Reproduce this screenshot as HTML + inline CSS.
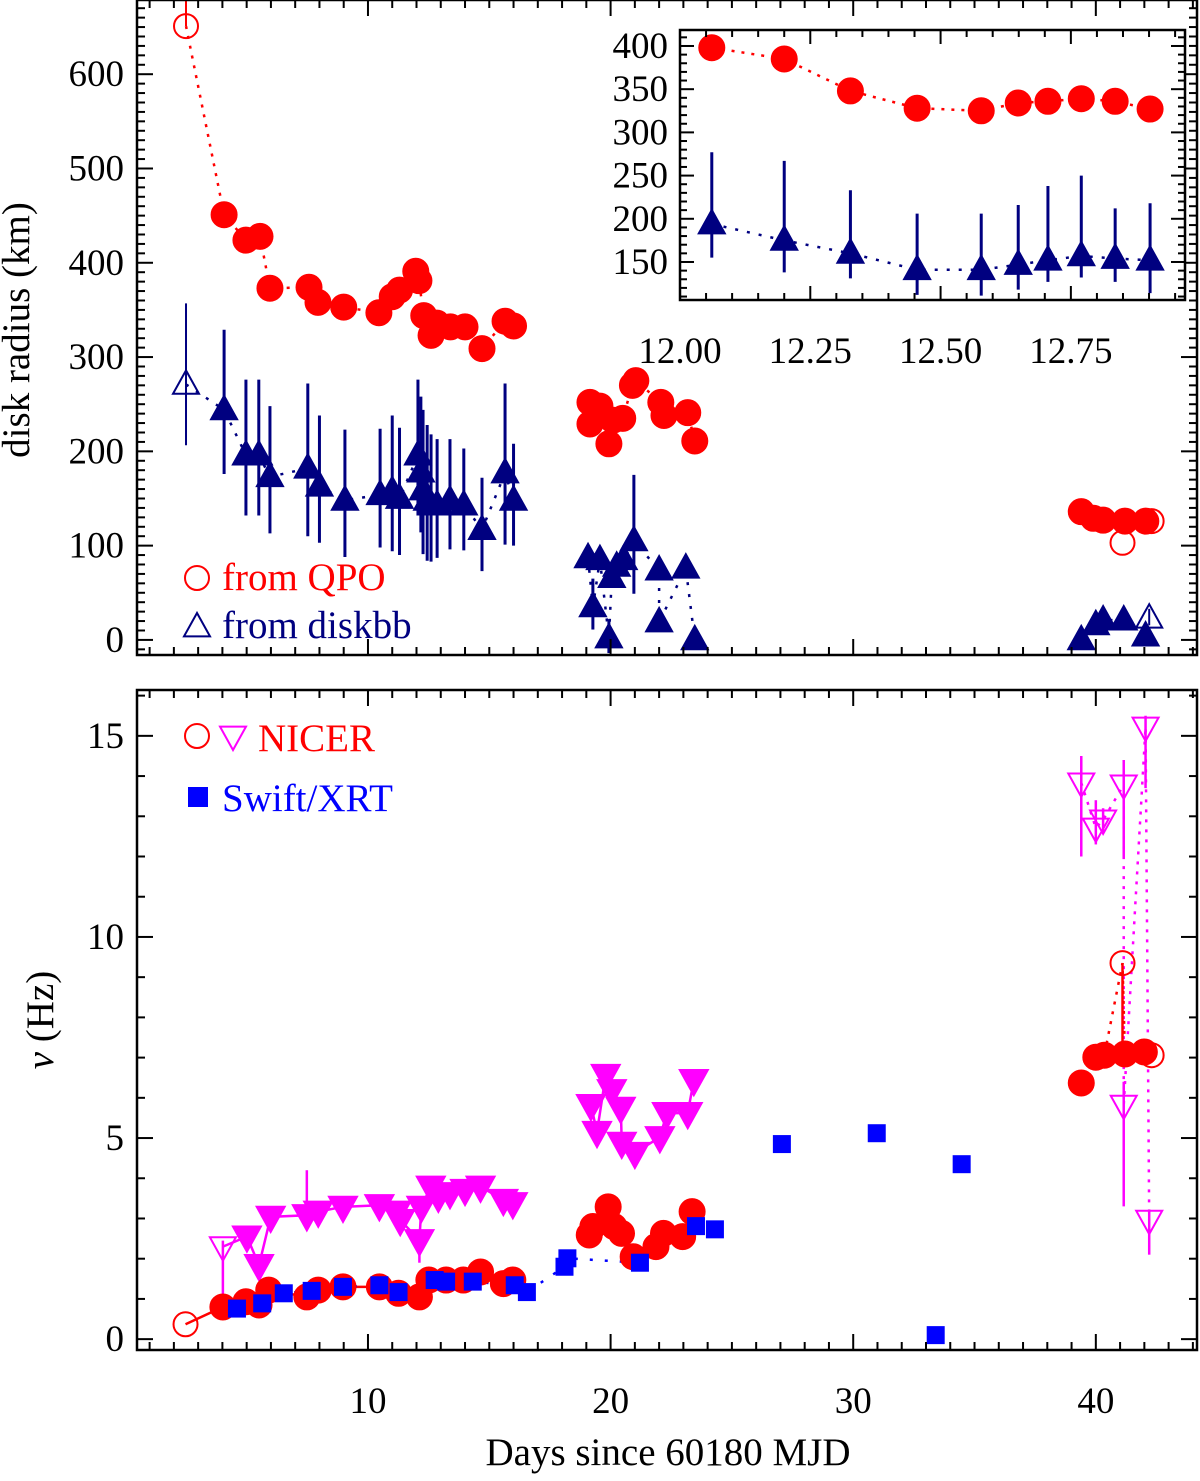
<!DOCTYPE html>
<html><head><meta charset="utf-8"><style>
body{margin:0;background:#fff}
svg text{font-family:"Liberation Serif",serif}
</style></head><body>
<svg id="c" width="1200" height="1476" xmlns="http://www.w3.org/2000/svg"></svg>
<script>
// ---- data: top panel ----
const qpoDays=[4.07,4.97,5.55,5.96,7.57,7.94,9.0,10.45,11.0,11.3,11.97,12.1,12.3,12.6,12.84,13.4,14.0,14.7,15.65,16.0,19.15,19.56,19.15,20.1,19.93,20.5,20.9,21.04,22.07,22.2,23.18,23.47,39.4,39.9,40.3,41.2,42.06];
const qpoRadius=[451,424,428,373,374,358,353,347,364,371,391,381,344,323,336,332,332,309,338,333,252,248,229,233,208,235,270,275,252,238,241,211,136,129,127,126,126];
const qpoOpenDays=[2.5,41.1,42.3];
const qpoOpenRadius=[651,103,126];
const dbbDays=[4.07,4.97,5.5,5.96,7.52,8.0,9.05,10.5,11.0,11.3,12.06,12.18,12.27,12.44,12.6,12.85,13.38,13.95,14.7,15.65,16.0,19.07,19.27,19.56,19.93,20.05,20.25,20.54,20.96,22.0,22.0,23.1,23.47,39.4,40.0,40.3,41.15,42.05];
const dbbRadius=[244,196,196,173,182,163,148,154,158,150,196,178,159,148,143,143,148,143,117,177,148,87,35,85,2,66,78,85,105,74,19,76,0,0,16,21,21,4];
const dbbErr=[85,80,80,75,90,75,75,70,80,75,80,80,85,80,75,70,65,60,55,95,60,10,30,10,20,10,10,15,70,10,10,10,0,0,0,0,0,0];
const dbbOpenDays=[2.5,42.2];
const dbbOpenRadius=[271,23];
const dbbOpenErr=[86,10];
// ---- inset ----
const insDays=[12.061,12.20,12.327,12.455,12.578,12.649,12.706,12.770,12.835,12.902];
const insQpo=[398,385,348,328,325,334,336,339,336,327];
const insDbb=[194,175,160,141,141,147,152,157,154,152];
const insDbbHi=[277,267,233,206,206,216,238,250,212,218];
const insDbbLo=[155,138,131,112,111,118,127,132,127,114];
// ---- bottom panel ----
const nicerDays=[4.02,4.97,5.51,5.91,7.48,7.95,8.97,10.47,11.26,12.12,12.51,13.22,13.93,14.64,15.58,15.97,19.12,19.27,19.9,20.14,20.45,20.93,21.87,22.18,22.97,23.36,39.4,40.0,40.35,41.2,42.0];
const nicerFreq=[0.80,0.93,0.85,1.22,1.05,1.22,1.30,1.30,1.14,1.05,1.47,1.47,1.47,1.67,1.38,1.47,2.59,2.80,3.29,2.80,2.63,2.05,2.30,2.63,2.55,3.17,6.37,7.01,7.06,7.09,7.14];
const nicerOpenDays=[2.48,41.1,42.3];
const nicerOpenFreq=[0.37,9.35,7.06];
const swiftDays=[4.6,5.64,6.53,7.68,8.97,10.47,11.26,12.75,13.22,14.32,16.05,16.55,18.1,18.22,21.21,23.52,24.3,27.06,30.97,34.47,33.4];
const swiftFreq=[0.76,0.89,1.14,1.20,1.30,1.34,1.17,1.47,1.43,1.43,1.34,1.17,1.80,2.01,1.90,2.81,2.73,4.85,5.12,4.35,0.10];
const ulDays=[5.01,5.51,5.99,7.48,7.95,8.97,10.47,11.17,11.33,12.12,12.2,12.59,12.9,13.38,14.0,14.64,15.58,15.97,19.19,19.44,19.8,20.05,20.42,20.46,21.0,22.03,22.32,23.18,23.43];
const ulFreq=[2.55,1.84,3.04,3.08,3.17,3.29,3.33,3.17,2.96,2.46,3.29,3.79,3.54,3.63,3.71,3.79,3.46,3.38,5.82,5.15,6.57,6.19,5.75,4.88,4.63,5.02,5.62,5.62,6.44];
const ulOpenDays=[4.02,39.4,40.0,40.3,41.15,41.15,42.05,42.2];
const ulOpenFreq=[2.30,13.83,12.71,12.91,13.78,5.82,15.22,2.96];
const ulOpenHi=[2.45,14.5,13.4,13.2,14.4,6.4,15.5,3.2];
const ulOpenLo=[0.95,12.0,12.3,12.6,12.0,3.3,13.7,2.1];
// ---- ticks ----
const xTicks=[10,20,30,40];
const topYTicks=[0,100,200,300,400,500,600];
const botYTicks=[0,5,10,15];
const insXTicks=[12.00,12.25,12.50,12.75];
const insYTicks=[150,200,250,300,350,400];

const S=document.getElementById('c');const NS='http://www.w3.org/2000/svg';
function el(t,a,p){const e=document.createElementNS(NS,t);for(const k in a)e.setAttribute(k,a[k]);(p||S).appendChild(e);return e;}
function lin(d0,d1,r0,r1){return v=>r0+(v-d0)*(r1-r0)/(d1-d0);}

const X=lin(0.48,44.17,137,1197);
const YT=lin(-16,678.7,655,0);
const YB=lin(-0.27,16.14,1350,690);
const XI=lin(12.0,12.969,680,1185);
const YI=lin(106,418.5,300,30);
const FS=37;

function frame(x0,y0,x1,y1,name,g){el('rect',{x:x0,y:y0,width:x1-x0,height:y1-y0,fill:'none',stroke:'#000','stroke-width':2.5,},g);}
function ticksX(g,sx,a,b,step,major,y0,y1,len,mlen){for(let v=Math.ceil(a/step)*step;v<=b+1e-9;v+=step){const x=sx(v);const isM=major.some(m=>Math.abs(m-v)<1e-6);const L=isM?len:mlen;el('line',{x1:x,x2:x,y1:y1,y2:y1-L,stroke:'#000','stroke-width':2},g);el('line',{x1:x,x2:x,y1:y0,y2:y0+L,stroke:'#000','stroke-width':2},g);}}
function ticksY(g,sy,a,b,step,major,x0,x1,len,mlen){for(let v=Math.ceil(a/step)*step;v<=b+1e-9;v+=step){const y=sy(v);const isM=major.some(m=>Math.abs(m-v)<1e-6);const L=isM?len:mlen;el('line',{y1:y,y2:y,x1:x0,x2:x0+L,stroke:'#000','stroke-width':2},g);el('line',{y1:y,y2:y,x1:x1,x2:x1-L,stroke:'#000','stroke-width':2},g);}}
function txt(x,y,s,o,g){const t=el('text',Object.assign({x:x,y:y,'font-size':FS},o||{}),g);t.textContent=s;return t;}
// gap: break line where consecutive days differ by more than gap
function path(xs,ys,sx,sy,col,dash,w,name,g,gap){const idx=xs.map((_,i)=>i).sort((a,b)=>xs[a]-xs[b]);let d='';idx.forEach((i,k)=>{const brk=k===0||(gap&&xs[i]-xs[idx[k-1]]>gap);d+=(brk?'M':'L')+sx(xs[i])+','+sy(ys[i]);});const p=el('path',{d:d,fill:'none',stroke:col,'stroke-width':w||2.5,'stroke-dasharray':dash||'none'},g);}
function circ(x,y,r,col,fill,name,g){const c=el('circle',{cx:x,cy:y,r:r,fill:fill?col:'none',stroke:col,'stroke-width':2},g);}
function tri(x,y,s,col,fill,up,name,g){const h=s*0.9;const p=up?`${x},${y-h*0.6} ${x-s/2},${y+h*0.4} ${x+s/2},${y+h*0.4}`:`${x},${y+h*0.6} ${x-s/2},${y-h*0.4} ${x+s/2},${y-h*0.4}`;const t=el('polygon',{points:p,fill:fill?col:'none',stroke:col,'stroke-width':2},g);}
function vline(x,y1,y2,col,w,g){el('line',{x1:x,x2:x,y1:y1,y2:y2,stroke:col,'stroke-width':w||3},g);}

const RED='#ff0000',NAVY='#000080',MAG='#ff00ff',BLUE='#0000ff';

// ===== TOP PANEL =====
const gt=el('g',{});
path(dbbDays.concat(dbbOpenDays),dbbRadius.concat(dbbOpenRadius),X,YT,NAVY,'3,9',2.5,'diskbb-line',gt,2.5);
path(qpoDays.concat([2.5,42.3]),qpoRadius.concat([651,126]),X,YT,RED,'3,7',2.5,'qpo-line',gt,2.5);
dbbDays.forEach((d,i)=>{if(dbbErr[i])vline(X(d),YT(dbbRadius[i]+dbbErr[i]),YT(Math.max(-16,dbbRadius[i]-dbbErr[i]*0.8)),NAVY,3,gt);});
dbbOpenDays.forEach((d,i)=>vline(X(d),YT(dbbOpenRadius[i]+dbbOpenErr[i]),YT(dbbOpenRadius[i]-dbbOpenErr[i]*0.75),NAVY,2,gt));
dbbDays.forEach((d,i)=>tri(X(d),YT(dbbRadius[i]),26,NAVY,true,true,'diskbb-point',gt));
dbbOpenDays.forEach((d,i)=>tri(X(d),YT(dbbOpenRadius[i]),26,NAVY,false,true,'diskbb-open-point',gt));
vline(X(2.5),YT(651),0,RED,2,gt);
qpoDays.forEach((d,i)=>circ(X(d),YT(qpoRadius[i]),12.5,RED,true,'qpo-point',gt));
qpoOpenDays.forEach((d,i)=>circ(X(d),YT(qpoOpenRadius[i]),12,RED,false,'qpo-open-point',gt));
frame(137,0,1197,655,'top-plot-frame',gt);
ticksX(gt,X,1,44,1,xTicks,0,655,16,8);
ticksY(gt,YT,-10,670,10,topYTicks,137,1197,16,8);
topYTicks.forEach(v=>txt(124,YT(v)+12,String(v),{'text-anchor':'end',},gt));
txt(0,0,'disk radius (km)',{transform:'translate(29,330) rotate(-90)','text-anchor':'middle','font-size':39,},gt);
circ(197,578,12,RED,false,'legend-qpo-marker',gt);
txt(222,590,'from QPO',{fill:RED,'font-size':39,},gt);
tri(197,627,26,NAVY,false,true,'legend-diskbb-marker',gt);
txt(222,638,'from diskbb',{fill:NAVY,'font-size':39,},gt);

// ===== INSET =====
const gi=el('g',{});
el('rect',{x:680,y:30,width:505,height:270,fill:'#fff'},gi);
path(insDays,insDbb,XI,YI,NAVY,'3,9',2.5,'inset-diskbb-line',gi);
path(insDays,insQpo,XI,YI,RED,'3,7',2.5,'inset-qpo-line',gi);
insDays.forEach((d,i)=>vline(XI(d),YI(insDbbHi[i]),YI(insDbbLo[i]),NAVY,3,gi));
insDays.forEach((d,i)=>tri(XI(d),YI(insDbb[i]),26,NAVY,true,true,'inset-diskbb-point',gi));
insDays.forEach((d,i)=>circ(XI(d),YI(insQpo[i]),12.5,RED,true,'inset-qpo-point',gi));
frame(680,30,1185,300,'inset-frame',gi);
ticksX(gi,XI,12.0,12.969,0.05,insXTicks,30,300,14,7);
ticksY(gi,YI,110,415,10,insYTicks,680,1185,14,7);
insXTicks.forEach(v=>txt(XI(v),363,v.toFixed(2),{'text-anchor':'middle',},gi));
insYTicks.forEach(v=>txt(668,YI(v)+12,String(v),{'text-anchor':'end',},gi));

// ===== BOTTOM PANEL =====
const gb=el('g',{});
const early=nicerDays.map((d,i)=>i).filter(i=>nicerDays[i]<24);
path([2.48].concat(early.map(i=>nicerDays[i])),[0.37].concat(early.map(i=>nicerFreq[i])),X,YB,RED,'none',2.5,'nicer-line-early',gb,2.5);
path([39.4,40.0,40.35,41.1,41.2,42.0,42.3],[6.37,7.01,7.06,9.35,7.09,7.14,7.06],X,YB,RED,'3,7',2.5,'nicer-line-late',gb);
path([4.02].concat(ulDays),[2.30].concat(ulFreq),X,YB,MAG,'none',2.5,'upper-limit-line',gb,2.5);
path(ulOpenDays.slice(1),ulOpenFreq.slice(1),X,YB,MAG,'3,7',2.5,'upper-limit-line-late',gb);
path(swiftDays.slice(0,17),swiftFreq.slice(0,17),X,YB,BLUE,'3,12',2.5,'swift-line',gb);
ulOpenDays.forEach((d,i)=>vline(X(d),YB(ulOpenHi[i]),YB(ulOpenLo[i]),MAG,2.5,gb));
vline(X(7.48),YB(4.2),YB(3.08),MAG,2.5,gb);
vline(X(12.12),YB(2.46),YB(1.9),MAG,2.5,gb);
vline(X(41.1),YB(9.35),YB(7.2),RED,2.5,gb);
ulDays.forEach((d,i)=>tri(X(d),YB(ulFreq[i]),28,MAG,true,false,'upper-limit-point',gb));
ulOpenDays.forEach((d,i)=>tri(X(d),YB(ulOpenFreq[i]),26,MAG,false,false,'upper-limit-open-point',gb));
nicerDays.forEach((d,i)=>circ(X(d),YB(nicerFreq[i]),12.5,RED,true,'nicer-point',gb));
nicerOpenDays.forEach((d,i)=>circ(X(d),YB(nicerOpenFreq[i]),12,RED,false,'nicer-open-point',gb));
swiftDays.forEach((d,i)=>{const r=el('rect',{x:X(d)-9,y:YB(swiftFreq[i])-9,width:18,height:18,fill:BLUE},gb);});
frame(137,690,1197,1350,'bottom-plot-frame',gb);
ticksX(gb,X,1,44,1,xTicks,690,1350,16,8);
ticksY(gb,YB,0,16,1,botYTicks,137,1197,16,8);
botYTicks.forEach(v=>txt(124,YB(v)+12,String(v),{'text-anchor':'end',},gb));
xTicks.forEach(v=>txt(X(v),1413,String(v),{'text-anchor':'middle',},gb));
const yt=txt(0,0,'',{transform:'translate(53,1020) rotate(-90)','text-anchor':'middle','font-size':39,},gb);
yt.innerHTML='<tspan font-style="italic">ν</tspan> (Hz)';
txt(668,1465,'Days since 60180 MJD',{'text-anchor':'middle','font-size':39,},gb);
circ(197,736,12,RED,false,'legend-nicer-circle',gb);
tri(233,736,26,MAG,false,false,'legend-nicer-triangle',gb);
txt(258,751,'NICER',{fill:RED,'font-size':39,},gb);
el('rect',{x:188,y:787,width:20,height:20,fill:BLUE,},gb);
txt(222,811,'Swift/XRT',{fill:BLUE,'font-size':39,},gb);
</script>
</body></html>
